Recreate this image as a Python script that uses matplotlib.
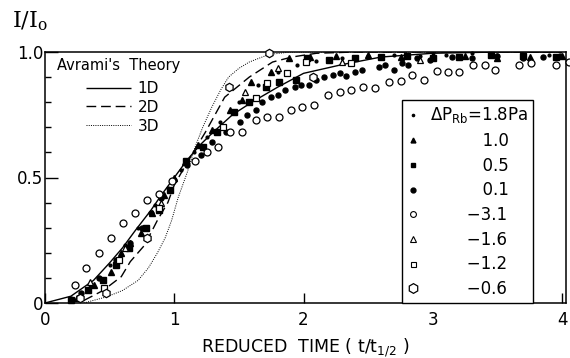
import matplotlib
matplotlib.use("Agg")
import matplotlib.pyplot as plt
from matplotlib.lines import Line2D
from matplotlib.ticker import MultipleLocator

plt.rcParams['font.family'] = ['DejaVu Sans']
plt.rcParams['mathtext.fontset'] = 'dejavusans'

# ---- Avrami theory curves ----
t_1d = [0, 0.2, 0.375, 0.5, 0.6, 0.7, 0.82, 0.9, 1.0, 1.1, 1.2, 1.3, 1.45, 1.6, 1.8, 2.0, 2.3, 2.6, 3.0, 3.5, 4.0]
I_1d = [0, 0.027, 0.09, 0.16, 0.22, 0.29, 0.37, 0.43, 0.50, 0.57, 0.63, 0.68, 0.75, 0.80, 0.86, 0.915, 0.95, 0.98, 0.995, 1.0, 1.0]

t_2d = [0.3, 0.45, 0.59, 0.66, 0.77, 0.87, 0.95, 1.0, 1.1, 1.24, 1.39, 1.58, 1.76, 1.91, 2.1, 2.4, 4.0]
I_2d = [0.01, 0.05, 0.105, 0.165, 0.23, 0.33, 0.40, 0.47, 0.56, 0.68, 0.82, 0.90, 0.96, 0.98, 0.995, 1.0, 1.0]

t_3d = [0.3, 0.48, 0.6, 0.72, 0.8, 0.87, 0.93, 0.98, 1.03, 1.1, 1.16, 1.22, 1.29, 1.36, 1.42, 1.5, 1.58, 1.73, 1.9, 4.0]
I_3d = [0.0, 0.025, 0.05, 0.09, 0.14, 0.20, 0.26, 0.33, 0.42, 0.52, 0.62, 0.70, 0.78, 0.85, 0.90, 0.935, 0.96, 0.99, 1.0, 1.0]

# ---- data series ----
t_p18 = [0.2, 0.35, 0.5, 0.62, 0.72, 0.85, 0.95, 1.05, 1.15, 1.25, 1.35, 1.5, 1.65, 1.8, 1.95, 2.1, 2.3, 2.5, 2.7, 2.9, 3.1, 3.3, 3.5, 3.7, 3.9]
I_p18 = [0.02, 0.07, 0.15, 0.23, 0.30, 0.39, 0.46, 0.53, 0.60, 0.66, 0.72, 0.80, 0.87, 0.92, 0.95, 0.965, 0.975, 0.985, 0.99, 0.985, 0.99, 0.995, 0.99, 0.985, 0.99]

t_p10 = [0.25, 0.38, 0.51, 0.59, 0.66, 0.74, 0.83, 0.92, 1.0, 1.08, 1.18, 1.29, 1.43, 1.52, 1.59, 1.75, 1.89, 2.05, 2.25, 2.5, 2.75, 3.0, 3.25, 3.5, 3.75, 4.0]
I_p10 = [0.02, 0.07, 0.125, 0.20, 0.24, 0.28, 0.36, 0.43, 0.50, 0.56, 0.63, 0.69, 0.77, 0.81, 0.88, 0.92, 0.975, 0.98, 0.985, 0.99, 0.98, 0.99, 0.985, 0.975, 0.98, 0.985]

t_p05 = [0.2, 0.33, 0.45, 0.55, 0.65, 0.78, 0.88, 0.97, 1.09, 1.22, 1.33, 1.46, 1.58, 1.71, 1.81, 1.94, 2.03, 2.2, 2.4, 2.6, 2.8, 3.0, 3.2, 3.45, 3.7, 3.95]
I_p05 = [0.01, 0.05, 0.09, 0.15, 0.22, 0.30, 0.37, 0.45, 0.565, 0.62, 0.68, 0.76, 0.80, 0.86, 0.88, 0.89, 0.976, 0.97, 0.975, 0.98, 0.985, 0.975, 0.98, 0.99, 0.985, 0.98]

t_p01 = [0.28, 0.42, 0.55, 0.66, 0.75, 0.82, 0.9, 1.0, 1.1, 1.21, 1.29, 1.40, 1.51, 1.56, 1.63, 1.68, 1.745, 1.80, 1.86, 1.93, 1.98, 2.04, 2.10, 2.16, 2.23, 2.28, 2.33, 2.40, 2.45, 2.58, 2.63, 2.70, 2.76, 2.81, 2.88, 2.98, 3.15, 3.3, 3.5, 3.7, 3.85, 3.98]
I_p01 = [0.04, 0.10, 0.17, 0.24, 0.30, 0.36, 0.42, 0.49, 0.55, 0.59, 0.64, 0.68, 0.72, 0.75, 0.77, 0.80, 0.82, 0.83, 0.85, 0.86, 0.87, 0.87, 0.89, 0.90, 0.91, 0.915, 0.905, 0.92, 0.93, 0.94, 0.95, 0.93, 0.957, 0.95, 0.975, 0.97, 0.98, 0.975, 0.985, 0.975, 0.98, 0.985]

t_m31 = [0.23, 0.32, 0.42, 0.51, 0.60, 0.70, 0.79, 0.885, 0.98, 1.16, 1.25, 1.34, 1.43, 1.52, 1.63, 1.72, 1.81, 1.90, 1.99, 2.08, 2.19, 2.28, 2.37, 2.46, 2.55, 2.66, 2.75, 2.84, 2.93, 3.03, 3.12, 3.2, 3.31, 3.40, 3.48, 3.67, 3.76, 3.95, 4.05]
I_m31 = [0.07, 0.14, 0.20, 0.26, 0.32, 0.36, 0.41, 0.434, 0.486, 0.565, 0.60, 0.62, 0.68, 0.68, 0.73, 0.74, 0.74, 0.77, 0.78, 0.79, 0.83, 0.84, 0.85, 0.86, 0.855, 0.88, 0.885, 0.91, 0.89, 0.925, 0.92, 0.92, 0.95, 0.95, 0.93, 0.95, 0.955, 0.95, 0.96]

t_m16 = [0.35, 0.62, 0.90, 1.55, 1.80, 2.3, 2.9]
I_m16 = [0.085, 0.22, 0.40, 0.84, 0.936, 0.96, 0.97]

t_m12 = [0.455, 0.57, 0.885, 1.38, 1.63, 1.72, 1.875, 2.02, 2.37]
I_m12 = [0.06, 0.17, 0.38, 0.70, 0.815, 0.876, 0.918, 0.96, 0.955]

t_m06 = [0.27, 0.47, 0.79, 1.42, 1.73, 2.07]
I_m06 = [0.02, 0.04, 0.26, 0.86, 0.995, 0.90]

legend_prefix = 'ΔP$_{\\mathrm{Rb}}$='
legend_values = ['1.8', '1.0', '0.5', '0.1', '−3.1', '−1.6', '−1.2', '−0.6']
legend_unit = 'Pa'

fig = plt.figure(figsize=(5.7, 3.58), dpi=100)
ax = fig.add_axes([45/570, 55/358, (566-45)/570, (303-52)/358])
ax.set_xlim(0, 4.03)
ax.set_ylim(0, 1.0)

# theory
l1, = ax.plot(t_1d, I_1d, color='black', lw=1.0, solid_capstyle='butt')
l2, = ax.plot(t_2d, I_2d, color='black', lw=1.0, dashes=(7, 3.5))
l3, = ax.plot(t_3d, I_3d, color='black', lw=0.7, dashes=(1, 1.3))

# data
kw = dict(ls='none', color='black', clip_on=False, zorder=3)
ax.plot(t_p18, I_p18, marker='o', ms=2.0, **kw)
ax.plot(t_p10, I_p10, marker='^', ms=4.5, **kw)
ax.plot(t_p05, I_p05, marker='s', ms=4.0, **kw)
ax.plot(t_p01, I_p01, marker='o', ms=3.6, **kw)
ax.plot(t_m31, I_m31, marker='o', ms=5.0, mfc='white', mew=0.9, **kw)
ax.plot(t_m16, I_m16, marker='^', ms=5.0, mfc='white', mew=0.9, **kw)
ax.plot(t_m12, I_m12, marker='s', ms=5.0, mfc='white', mew=0.9, **kw)
ax.plot(t_m06, I_m06, marker='h', ms=6.0, mfc='white', mew=0.9, **kw)

# axes styling
for s in ax.spines.values():
    s.set_linewidth(1.1)
ax.set_xticks([0, 1, 2, 3, 4])
ax.set_xticklabels(['0', '1', '2', '3', '4'])
ax.set_yticks([0, 0.5, 1.0])
ax.set_yticklabels(['0', '0.5', '1.0'])
ax.yaxis.set_minor_locator(MultipleLocator(0.1))
ax.tick_params(axis='both', which='major', direction='in', labelsize=12, width=1.0)
ax.tick_params(axis='x', which='major', length=7, pad=6)
ax.tick_params(axis='y', which='major', length=9, pad=1)
ax.tick_params(axis='y', which='minor', direction='in', length=4, width=1.0)
ax.tick_params(top=False, right=False)

ax.set_xlabel('REDUCED  TIME ( t/t$_{1/2}$ )', fontsize=12.5, labelpad=5)
fig.text(12/570, 1 - 27/358, r'$\mathrm{I}/\mathrm{I}_{\mathrm{o}}$', fontsize=16,
         ha='left', va='baseline', math_fontfamily='dejavuserif')

# theory legend
ax.text(0.023, 0.945, "Avrami's  Theory", transform=ax.transAxes, fontsize=10.5,
        ha='left', va='center')
leg1 = ax.legend([l1, l2, l3], ['1D', '2D', '3D'], loc='upper left',
                 bbox_to_anchor=(0.078, 0.885), frameon=False, fontsize=11,
                 handlelength=3.0, handletextpad=0.4, labelspacing=0.25,
                 borderpad=0, borderaxespad=0)
ax.add_artist(leg1)

# data legend labels: right-align numbers under "1.8" using measured space padding
renderer = fig.canvas.get_renderer()
def text_width(s):
    t = fig.text(0, 0, s, fontsize=12)
    w = t.get_window_extent(renderer).width
    t.remove()
    return w
w_space = text_width('a a') - text_width('aa')
w_first = text_width(legend_prefix + legend_values[0])
labels = [legend_prefix + legend_values[0] + legend_unit]
for v in legend_values[1:]:
    n = int(round((w_first - text_width(v)) / w_space))
    labels.append(' ' * n + v)

handles = [
    Line2D([], [], ls='none', marker='o', ms=1.6, color='black'),
    Line2D([], [], ls='none', marker='^', ms=3.5, color='black'),
    Line2D([], [], ls='none', marker='s', ms=2.8, color='black'),
    Line2D([], [], ls='none', marker='o', ms=3.5, color='black'),
    Line2D([], [], ls='none', marker='o', ms=4.2, color='black', mfc='white', mew=0.8),
    Line2D([], [], ls='none', marker='^', ms=4.0, color='black', mfc='white', mew=0.8),
    Line2D([], [], ls='none', marker='s', ms=3.6, color='black', mfc='white', mew=0.8),
    Line2D([], [], ls='none', marker='h', ms=7.0, color='black', mfc='white', mew=0.9),
]
leg2 = ax.legend(handles, labels, loc='lower right', bbox_to_anchor=(0.937, 0.0),
                 fontsize=12, frameon=True, fancybox=False, edgecolor='black',
                 handlelength=0.8, handletextpad=0.6, labelspacing=0.40,
                 borderpad=0.3, borderaxespad=0)
leg2.get_frame().set_linewidth(1.0)
leg2.get_frame().set_alpha(None)
leg2.set_zorder(5)

fig.savefig('out.png', dpi=100)
